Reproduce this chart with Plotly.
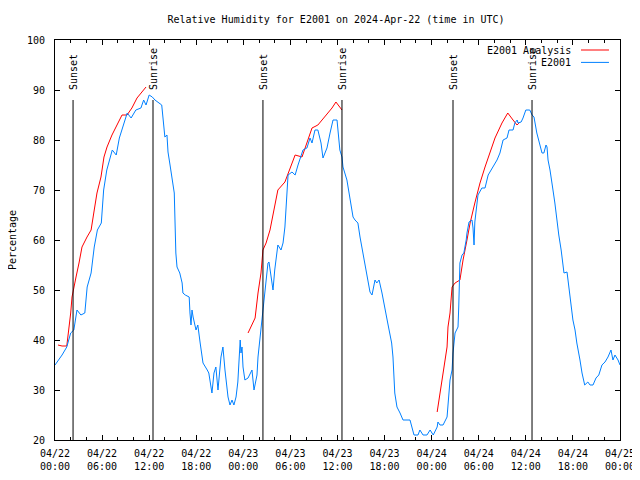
import plotly.graph_objects as go

# ---- data (hours since 2024-04-22 00:00 UTC) ----
obs_hours = [0.0, 0.9, 1.5, 2.0, 2.4, 2.8, 3.3, 3.8, 4.1, 4.6, 5.0, 5.4, 5.9, 6.2, 6.6, 7.3, 7.8, 8.2, 8.8, 9.2,
             9.7, 10.3, 10.95, 11.3, 11.6, 12.0, 12.4, 12.74, 13.6, 13.76, 14.0, 14.27, 14.4, 14.66, 14.9, 15.2,
             15.3, 15.4, 15.55, 15.9, 16.2, 16.3, 16.6, 17.1, 17.2, 17.33, 17.46, 17.6, 17.97, 18.2, 18.5, 18.86,
             19.4, 19.6, 20.0, 20.26, 20.5, 20.77, 21.15, 21.4, 21.66, 22.05, 22.3, 22.56, 22.8, 23.07, 23.3, 23.6,
             23.7, 23.83, 23.96, 24.2, 24.6, 25.1, 25.36, 25.74, 25.87, 26.1, 26.4, 26.5, 26.63, 26.9, 27.14,
             27.27, 27.5, 27.65, 27.78, 28.0, 28.3, 28.4, 28.8, 29.06, 29.3, 29.57, 29.7, 30.2, 30.6, 30.97, 31.6,
             32.1, 32.5, 32.75, 33.13, 33.5, 33.9, 34.15, 34.66, 35.05, 35.43, 35.94, 36.3, 36.57, 36.7, 37.2,
             37.6, 37.98, 38.23, 38.6, 38.87, 39.25, 39.6, 39.9, 40.14, 40.4, 40.78, 41.0, 41.3, 41.67, 42.05, 42.4,
             42.9, 43.07, 43.3, 43.58, 43.97, 44.35, 45.24, 45.5, 45.75, 46.26, 46.5, 46.9, 47.4, 47.8, 48.2, 48.7,
             48.8, 49.06, 49.45, 49.96, 50.08, 50.34, 50.6, 50.72, 50.98, 51.36, 51.45, 51.6, 51.87, 52.1, 52.4,
             52.5, 52.76, 53.14, 53.27, 53.4, 53.5, 53.8, 53.9, 54.4, 54.8, 55.2, 55.43, 55.8, 56.33, 56.7, 57.1,
             57.6, 57.86, 58.37, 58.6, 58.9, 59.0, 59.4, 59.64, 60.0, 60.5, 60.8, 61.04, 61.4, 61.7, 62.06, 62.3,
             62.57, 62.7, 62.83, 63.08, 63.3, 63.46, 63.7, 63.97, 64.2, 64.5, 64.7, 64.86, 65.25, 65.5, 65.76, 66.0,
             66.27, 66.5, 66.9, 67.16, 67.5, 67.9, 68.18, 68.56, 68.94, 69.3, 69.7, 70.09, 70.47, 70.85, 71.1,
             71.36, 71.75, 72.0]
obs_rh = [35, 37, 38.6, 41.4, 42, 46, 45, 45.4, 50.6, 53.4, 58.6, 62, 63.4, 70, 74, 78, 77, 80.4, 83.4, 85.4,
          84.4, 86, 86.4, 88, 87, 89, 88.6, 88, 87, 84.4, 80.6, 81, 77.6, 75, 72.4, 69.4,
          63.4, 57.4, 54.6, 53.4, 51.4, 49.4, 49, 48.6, 45.4, 43, 46, 44.6, 42, 43, 39.4, 35.4,
          34, 33.4, 29.4, 33.4, 34.6, 30, 36.6, 38.6, 34, 28.6, 27, 28, 27, 28.6, 31.6, 40,
          37.4, 38.6, 34.6, 32, 32.4, 34, 30, 33, 36.6, 40, 44, 46, 48, 51.4, 55.4,
          55.6, 52.6, 51.4, 50, 54, 58.6, 59, 58, 59.4, 62.6, 70.6, 73, 73.6, 73, 75, 78,
          78.4, 80.4, 79.4, 82, 82, 79.4, 76.4, 78.4, 81.4, 84, 84, 78, 76.6, 74.6, 72,
          68.6, 64.6, 64, 63.4, 60.6, 57.4, 54.6, 52, 49.6, 49, 52, 51.4, 52, 49.4, 46, 43.4,
          39.4, 36.6, 29.4, 26.6, 25.4, 24, 24, 22.6, 21, 21, 22, 21, 21, 22, 21, 22.6,
          23.6, 23, 23, 24.6, 26.6, 32, 34, 37.4, 41.4, 42.6, 46.6, 55.4, 57, 57.4, 60,
          61.4, 63.6, 64, 62.4, 59, 63.6, 67.4, 69, 70.4, 70.4, 73, 73.6, 74.4, 76, 77.4, 80,
          80.4, 82, 82, 83.4, 84, 83.4, 83.6, 84.4, 86, 86, 85, 84.6, 81.4, 79.6, 77.4, 77.4,
          79, 78.6, 76, 74, 72, 70, 67.4, 63.4, 61, 58, 55.6, 53.4, 53.6, 50.6, 47.4, 44,
          42, 39.4, 36, 33.4, 31, 31.6, 31, 31, 32.4, 33, 35, 35.6, 36.6, 38, 36,
          37, 36, 35]

ana_hours = [0.38, 0.9, 1.5, 1.8, 2.0, 2.17, 2.4, 2.68, 3.06, 3.44, 4.08, 4.6, 5.0, 5.35, 5.86, 6.24, 6.63,
             7.26, 7.9, 8.54, 9.18, 9.8, 10.45, 11.09, 11.6, None,
             24.6, 25.5, 25.87, 26.25, 26.5, 26.9, 27.4, 27.9, 28.4, 29.3, 29.95, 30.6, 31.48, 32.1, 32.75,
             33.5, 34.4, 35.3, 35.8, 36.57, None,
             48.7, 49.06, 49.45, 49.96, 50.08, 50.34, 50.6, 50.98, 51.6, 52.0, 52.5, 52.9, 53.5, 54.16, 54.8,
             55.43, 56.07, 56.96, 57.7, 58.37, 58.88, 59.26]
ana_rh = [39, 38.8, 38.8, 42.6, 45.4, 48.6, 50.6, 52.6, 55.4, 58.6, 60.6, 62, 66, 69.4, 72.6, 76.6, 78.6,
          81, 83, 85, 85, 86.4, 88.4, 89.6, 90.6, None,
          41.4, 44.4, 49.4, 53.4, 58, 59.4, 62, 66, 70, 71.6, 74.4, 77, 76.6, 79.6, 82.4,
          83, 84.6, 86.4, 87.6, 86, None,
          25.6, 29.4, 33.4, 38.6, 42.6, 45.4, 50.6, 51.4, 52, 56, 60, 63.4, 67.4, 71.4, 74.6,
          77.6, 80.4, 83.4, 85.4, 84, 83, 83.6]

sun_hours = [2.3, 12.49, 26.5, 36.57, 50.72, 60.79]
sun_labels = ["Sunset", "Sunrise", "Sunset", "Sunrise", "Sunset", "Sunrise"]

tick_hours = list(range(0, 73, 6))
tick_labels = ["04/22<br>00:00", "04/22<br>06:00", "04/22<br>12:00", "04/22<br>18:00",
               "04/23<br>00:00", "04/23<br>06:00", "04/23<br>12:00", "04/23<br>18:00",
               "04/24<br>00:00", "04/24<br>06:00", "04/24<br>12:00", "04/24<br>18:00",
               "04/25<br>00:00"]
y_ticks = list(range(20, 101, 10))

series_names = ["E2001 Analysis", "E2001"]
series_colors = ["#ff0000", "#0080ff"]

FONT = "DejaVu Sans Mono"

fig = go.Figure()
fig.add_trace(go.Scatter(x=ana_hours, y=ana_rh, mode="lines", name=series_names[0],
                         line=dict(color=series_colors[0], width=1), connectgaps=False, showlegend=False))
fig.add_trace(go.Scatter(x=obs_hours, y=obs_rh, mode="lines", name=series_names[1],
                         line=dict(color=series_colors[1], width=1), showlegend=False))

for t, lab in zip(sun_hours, sun_labels):
    fig.add_shape(type="line", x0=t, x1=t, y0=20, y1=88, xref="x", yref="y",
                  line=dict(color="black", width=1))
    fig.add_annotation(x=t, y=89.6, xref="x", yref="y", text=lab, textangle=-90,
                       showarrow=False, xanchor="center", yanchor="bottom",
                       font=dict(family=FONT, size=10, color="black"))

# legend (gnuplot style: text right, sample on the right)
for i, (nm, col) in enumerate(zip(series_names, series_colors)):
    yp = 0.975 - i * 0.031
    fig.add_annotation(x=0.9168, y=yp, xref="paper", yref="paper", text=nm, showarrow=False,
                       xanchor="right", yanchor="middle", font=dict(family=FONT, size=10, color="black"))
    fig.add_shape(type="line", x0=0.9310, x1=0.9805, y0=yp, y1=yp, xref="paper", yref="paper",
                  line=dict(color=col, width=1))

# y-axis title
fig.add_annotation(x=-0.076, y=0.5, xref="paper", yref="paper", text="Percentage", textangle=-90,
                   showarrow=False, xanchor="center", yanchor="middle",
                   font=dict(family=FONT, size=10, color="black"))

# the page body adds an 8px margin, so the figure is 632x472 placed at (8, 8)
fig.update_layout(
    width=632, height=472,
    margin=dict(l=47, r=20, t=32, b=40),
    paper_bgcolor="white", plot_bgcolor="white",
    font=dict(family=FONT, size=10, color="black"),
    title=dict(text="Relative Humidity for E2001 on 2024-Apr-22 (time in UTC)",
               x=0.519, xanchor="center", y=1 - 11 / 472, yanchor="middle",
               font=dict(family=FONT, size=10, color="black")),
    showlegend=False,
)
fig.update_xaxes(range=[0, 72], tickvals=tick_hours, ticktext=tick_labels, showgrid=False,
                 zeroline=False, showline=True, linecolor="black", linewidth=1, mirror="allticks",
                 ticks="inside", ticklen=5, tickcolor="black", automargin=False,
                 ticklabelstandoff=4,
                 minor=dict(dtick=2, tick0=0, ticks="inside", ticklen=3, tickcolor="black", showgrid=False),
                 tickfont=dict(family=FONT, size=10))
fig.update_yaxes(range=[20, 100], tickvals=y_ticks, showgrid=False, zeroline=False,
                 showline=True, linecolor="black", linewidth=1, mirror="allticks",
                 ticks="inside", ticklen=5, tickcolor="black", automargin=False,
                 ticklabelstandoff=7,
                 tickfont=dict(family=FONT, size=10))

fig.write_html("out.html")
